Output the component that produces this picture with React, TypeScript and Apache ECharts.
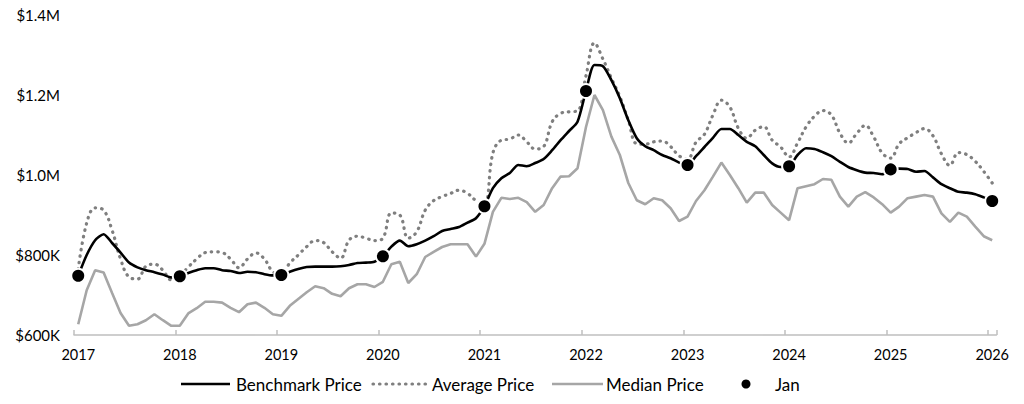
import React, { useEffect, useRef } from "react";
import * as echarts from "echarts";

const years = [2017, 2018, 2019, 2020, 2021, 2022, 2023, 2024, 2025, 2026];
const months = ["01", "02", "03", "04", "05", "06", "07", "08", "09", "10", "11", "12"];

// Values in thousands of dollars, monthly from Jan 2017 to Jan 2026
const benchmark = [
  748, 800, 837, 852, 830, 806, 781, 769, 762, 757, 751, 744,
  747, 755, 762, 767, 767, 762, 760, 755, 758, 757, 752, 749,
  750, 758, 765, 770, 771, 771, 771, 772, 775, 780, 781, 783,
  797, 821, 836, 822, 827, 836, 847, 860, 865, 870, 881, 892,
  922, 967, 992, 1005, 1025, 1022, 1030, 1040, 1062, 1087, 1110, 1133,
  1210, 1275, 1272, 1237, 1192, 1137, 1092, 1072, 1062, 1050, 1042, 1031,
  1025, 1047, 1070, 1093, 1115, 1115, 1100, 1083, 1072, 1050, 1029, 1020,
  1022, 1050, 1067, 1065, 1057, 1047, 1033, 1020, 1012, 1006, 1005, 1002,
  1014, 1016, 1015, 1008, 1010, 994, 977, 967, 958, 956, 952, 944,
  935,
];

const average = [
  765, 880, 918, 912, 862, 790, 745, 740, 772, 777, 762, 738,
  748, 770, 790, 806, 808, 806, 790, 768, 790, 805, 790, 758,
  752, 780, 800, 821, 836, 831, 808, 792, 837, 847, 842, 836,
  842, 905, 900, 842, 858, 912, 936, 946, 954, 962, 954, 936,
  928, 1055, 1087, 1090, 1100, 1083, 1065, 1071, 1133, 1154, 1158, 1160,
  1248, 1330, 1290, 1242, 1196, 1137, 1078, 1077, 1083, 1085, 1071, 1048,
  1040, 1082, 1102, 1150, 1187, 1170, 1117, 1092, 1112, 1121, 1087, 1070,
  1045, 1080, 1120, 1147, 1161, 1150, 1105, 1080, 1104, 1124, 1095, 1055,
  1042, 1078, 1093, 1106, 1116, 1098, 1053, 1024, 1056, 1051, 1034, 1009,
  980,
];

const median = [
  627, 712, 762, 756, 705, 655, 623, 627, 637, 652, 637, 623,
  623, 654, 667, 683, 683, 681, 668, 657, 677, 681, 668, 652,
  648, 673, 690, 707, 722, 717, 703, 697, 717, 727, 727, 720,
  733, 777, 783, 730, 752, 795, 808, 820, 827, 827, 827, 796,
  828, 908, 943, 940, 943, 932, 908, 925, 967, 996, 997, 1017,
  1120, 1200, 1162, 1096, 1050, 980, 937, 927, 942, 937, 917, 885,
  896, 935, 962, 996, 1031, 1000, 967, 931, 956, 956, 925, 906,
  887, 967, 972, 977, 990, 988, 946, 921, 946, 957, 944, 927,
  906, 921, 942, 946, 950, 946, 904, 883, 906, 896, 871, 847,
  837,
];

const yTicks = { min: 600000, max: 1400000, interval: 200000 };

const FONT = "Lato, 'Open Sans', sans-serif";

export default function App() {
  const ref = useRef<HTMLDivElement>(null);

  useEffect(() => {
    if (!ref.current) return;
    const chart = echarts.init(ref.current, undefined, { renderer: "svg" });

    const categories: string[] = [];
    years.forEach((y) => {
      months.forEach((m) => {
        if (y === 2026 && m !== "01") return;
        categories.push(`${y}-${m}`);
      });
    });

    const toFull = (arr: number[]) => arr.map((v) => v * 1000);
    const janDots = categories.map((c, i) => (c.endsWith("-01") ? benchmark[i] * 1000 : null));

    const legendY = 384;

    chart.setOption({
      animation: false,
      grid: { left: 74, right: 10.4, top: 15, bottom: 69, containLabel: false },
      xAxis: {
        type: "category",
        data: categories,
        boundaryGap: true,
        axisLine: { show: true, lineStyle: { color: "#bfbfbf", width: 1.5 } },
        axisTick: {
          show: true,
          inside: true,
          length: 5,
          interval: (i: number) => i % 12 === 0,
          lineStyle: { color: "#bfbfbf", width: 1.5 },
        },
        axisLabel: {
          interval: (i: number) => i % 12 === 0,
          formatter: (v: string) => v.slice(0, 4),
          color: "#000",
          fontFamily: FONT,
          fontSize: 14.5,
          margin: 12,
        },
        splitLine: { show: false },
      },
      yAxis: {
        type: "value",
        min: yTicks.min,
        max: yTicks.max,
        interval: yTicks.interval,
        axisLine: { show: false },
        axisTick: { show: false },
        splitLine: { show: false },
        axisLabel: {
          color: "#000",
          fontFamily: FONT,
          fontSize: 15,
          margin: 14,
          formatter: (v: number) =>
            v >= 1000000 ? `$${(v / 1000000).toFixed(1)}M` : `$${Math.round(v / 1000)}K`,
        },
      },
      series: [
        {
          name: "Median Price",
          type: "line",
          data: toFull(median),
          showSymbol: false,
          symbol: "none",
          lineStyle: { color: "#a6a6a6", width: 2.6 },
          z: 1,
        },
        {
          name: "Average Price",
          type: "line",
          data: toFull(average),
          showSymbol: false,
          symbol: "none",
          smooth: 0.4,
          lineStyle: { color: "#7f7f7f", width: 3.2, type: [0.5, 6], cap: "round" },
          z: 2,
        },
        {
          name: "Benchmark Price",
          type: "line",
          data: toFull(benchmark),
          showSymbol: false,
          symbol: "none",
          smooth: 0.25,
          lineStyle: { color: "#000000", width: 2.6 },
          z: 3,
        },
        {
          name: "Jan",
          type: "scatter",
          data: janDots,
          symbol: "circle",
          symbolSize: 14,
          itemStyle: { color: "#000000", borderColor: "#ffffff", borderWidth: 2, opacity: 1 },
          z: 4,
        },
      ],
      graphic: [
        { type: "line", shape: { x1: 181, y1: legendY, x2: 230, y2: legendY }, style: { stroke: "#000", lineWidth: 2.6 } },
        { type: "text", x: 236, y: legendY, style: { text: "Benchmark Price", fill: "#000", font: `17px ${FONT}`, verticalAlign: "middle" } },
        {
          type: "line",
          shape: { x1: 373, y1: legendY, x2: 427, y2: legendY },
          style: { stroke: "#7f7f7f", lineWidth: 3.2, lineDash: [0.5, 6], lineCap: "round" },
        },
        { type: "text", x: 432, y: legendY, style: { text: "Average Price", fill: "#000", font: `17px ${FONT}`, verticalAlign: "middle" } },
        { type: "line", shape: { x1: 552, y1: legendY, x2: 603, y2: legendY }, style: { stroke: "#a6a6a6", lineWidth: 2.6 } },
        { type: "text", x: 606, y: legendY, style: { text: "Median Price", fill: "#000", font: `17px ${FONT}`, verticalAlign: "middle" } },
        { type: "circle", shape: { cx: 746, cy: legendY, r: 4.5 }, style: { fill: "#000" } },
        { type: "text", x: 775, y: legendY, style: { text: "Jan", fill: "#000", font: `17px ${FONT}`, verticalAlign: "middle" } },
      ],
    });

    return () => chart.dispose();
  }, []);

  return (
    <div
      ref={ref}
      style={{ position: "absolute", left: 0, top: 0, width: 1012, height: 404, overflow: "hidden", background: "#fff" }}
    />
  );
}
